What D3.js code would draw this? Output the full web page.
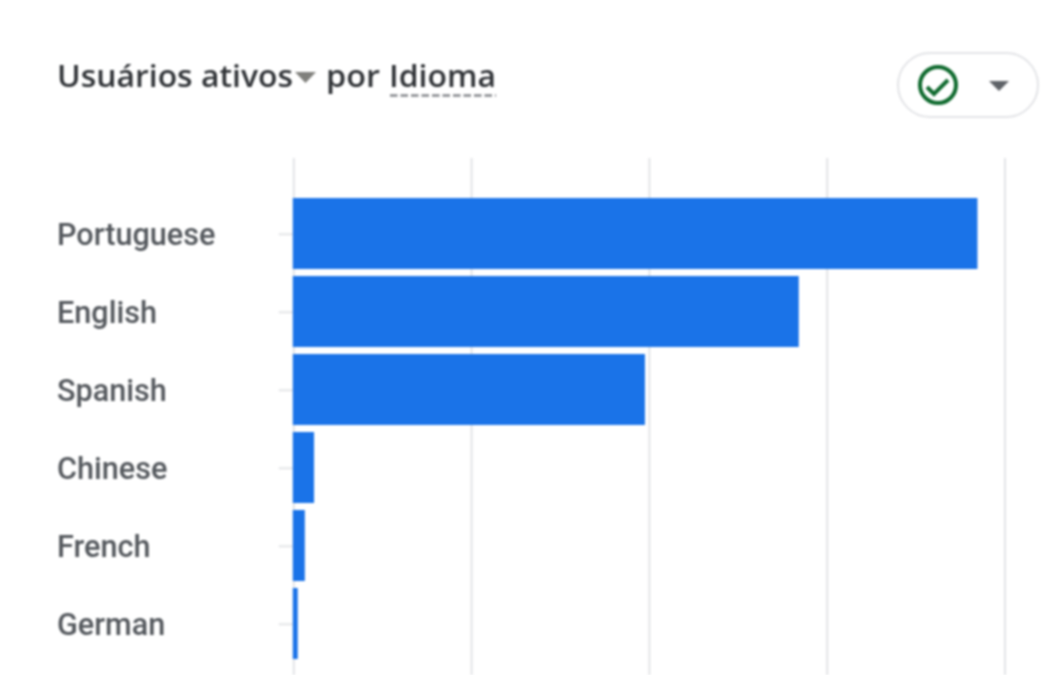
<!DOCTYPE html>
<html lang="pt">
<head>
<meta charset="utf-8">
<script src="https://cdn.jsdelivr.net/npm/d3@7"></script>
<style>
html,body{margin:0;padding:0;background:#fff;overflow:hidden}
svg{display:block;filter:blur(1px)}
text{font-family:Roboto,sans-serif}
</style>
</head>
<body>
<div id="chart"></div>
<script>
const languages = ["Portuguese","English","Spanish","Chinese","French","German"];
const activeUsers = [384.5,284,197.5,11.4,6.2,2.2];
const gridTicks = [0,100,200,300,400];

const W = 1046, H = 675;
const svg = d3.select("#chart").append("svg").attr("width",W).attr("height",H);

// card corner
svg.append("rect").attr("x",-26).attr("y",-26).attr("width",1200).attr("height",1000).attr("rx",30)
  .attr("fill","none").attr("stroke","#e3e5e8").attr("stroke-width",2);

const x = d3.scaleLinear().domain([0,400]).range([293.8,1005]);
const y = d3.scaleBand().domain(languages).range([194.5,662.5]).paddingInner(0.09).paddingOuter(0.045);

// vertical gridlines
svg.append("g").selectAll("line").data(gridTicks).join("line")
  .attr("x1",d=>x(d)).attr("x2",d=>x(d)).attr("y1",158).attr("y2",675)
  .attr("stroke","#e3e4e7").attr("stroke-width",2);

// category axis
const axis = svg.append("g").attr("transform",`translate(${x(0)},0.8)`)
  .call(d3.axisLeft(y).tickSize(15).tickPadding(0));
axis.select(".domain").remove();
axis.selectAll(".tick line").attr("stroke","#e3e4e7").attr("stroke-width",2);
axis.selectAll(".tick text")
  .attr("x",-236.8).attr("text-anchor","start").attr("dy","0.36em")
  .attr("fill","#54585d").attr("font-weight",500)
  .style("font-size","30.6px").style("font-family","Roboto,sans-serif");

// bars
svg.append("g").selectAll("rect").data(languages).join("rect")
  .attr("x",x(0)-1).attr("y",d=>y(d))
  .attr("width",(d,i)=>x(activeUsers[i])-x(0)+1).attr("height",y.bandwidth())
  .attr("fill","#1a73e8");

// title
const titleFont = "'Open Sans',sans-serif";
const title = svg.append("g").attr("fill","#303337").attr("font-weight",600);
title.append("text").attr("x",57).attr("y",87).attr("textLength",236).attr("lengthAdjust","spacingAndGlyphs")
  .style("font-family",titleFont).style("font-size","30px").text("Usuários ativos");
title.append("text").attr("x",326).attr("y",87).attr("textLength",54).attr("lengthAdjust","spacingAndGlyphs")
  .style("font-family",titleFont).style("font-size","30px").text("por");
title.append("text").attr("x",389).attr("y",87).attr("textLength",107).attr("lengthAdjust","spacingAndGlyphs")
  .style("font-family",titleFont).style("font-size","30px").text("Idioma");
svg.append("path").attr("d",d3.line()([[295,72],[316,72],[305.5,83]])+"Z").attr("fill","#80807c");
svg.append("line").attr("x1",390).attr("x2",496).attr("y1",95.5).attr("y2",95.5)
  .attr("stroke","#85888c").attr("stroke-width",2.5).attr("stroke-dasharray","7.5 3");

// status chip
svg.append("rect").attr("x",898).attr("y",53).attr("width",140).attr("height",64).attr("rx",32)
  .attr("fill","#fff").attr("stroke","#e3e4e7").attr("stroke-width",2);
svg.append("circle").attr("cx",938).attr("cy",85).attr("r",18)
  .attr("fill","none").attr("stroke","#0f6a2e").attr("stroke-width",4);
svg.append("path").attr("d",d3.line()([[927,87],[934,94],[948,80]]))
  .attr("fill","none").attr("stroke","#0f6a2e").attr("stroke-width",4);
svg.append("path").attr("d",d3.line()([[989,81],[1009,81],[999,91]])+"Z").attr("fill","#5f6368");
</script>
</body>
</html>
